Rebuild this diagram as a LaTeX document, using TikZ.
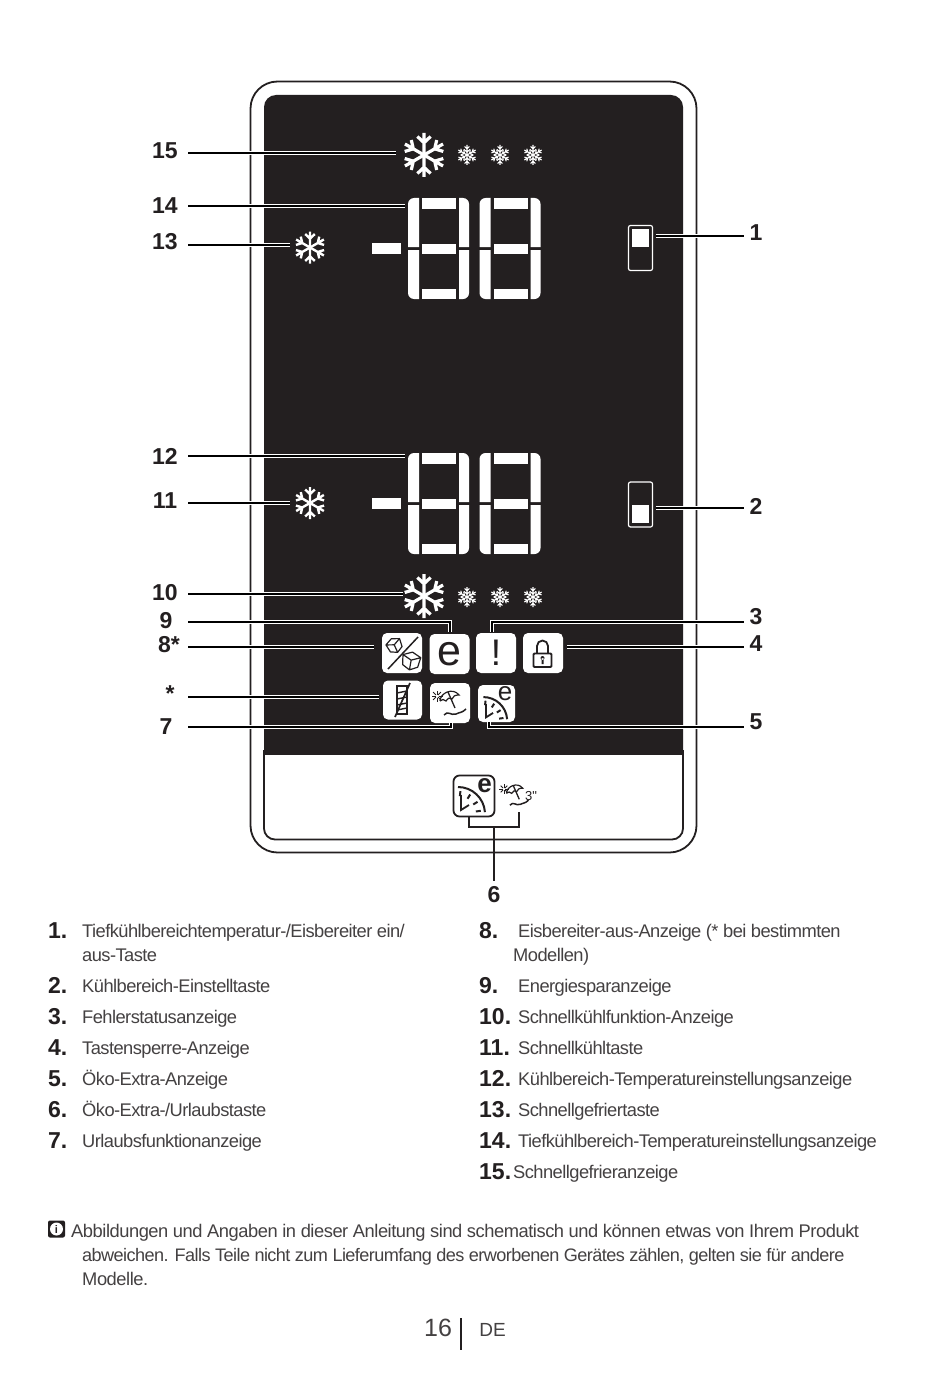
\documentclass[tikz,border=0pt]{standalone}
\usepackage{fontspec}
\setmainfont{Liberation Sans}
\newfontfamily\listfont[LetterSpace=-3]{Liberation Sans}
\newfontfamily\notefont[LetterSpace=-2.5]{Liberation Sans}
\newfontfamily\tightfont[LetterSpace=-3.1]{Liberation Sans}
\usetikzlibrary{calc}
\definecolor{PanelInk}{RGB}{35,31,32}
\tikzset{
	leader/.style={draw=white,double=black,double distance=2.4pt,line width=0.8pt},
	labelnum/.style={font=\bfseries\fontsize{23}{23}\selectfont,text=PanelInk,inner sep=0pt,minimum height=28pt},
	listnum/.style={font=\bfseries\fontsize{23}{23}\selectfont,text=PanelInk,anchor=base west,inner sep=0pt},
	listtxt/.style={font=\listfont\fontsize{18.3}{24}\selectfont,text=PanelInk!85,anchor=base west,inner sep=0pt},
	notetxt/.style={font=\notefont\fontsize{18.3}{24}\selectfont,text=PanelInk!85,anchor=base west,inner sep=0pt},
	icon/.style={fill=white,rounded corners=5pt,minimum size=40pt,inner sep=0pt,text=PanelInk},
	toggle/.style={draw=white,fill=PanelInk,line width=1.2pt,rounded corners=2pt,minimum width=24pt,minimum height=45pt,inner sep=0pt},
	pics/flake/.style={code={
		\foreach \r in {30,90,...,330}{
			\draw[rotate=\r,white,line width=#1] (0,0)--(1,0) (0.56,0)--(0.84,0.3) (0.56,0)--(0.84,-0.3);
		}
	}},
	pics/minflake/.style={code={
		\foreach \r in {30,90,...,330}{
			\draw[rotate=\r,white,line width=#1] (0,0)--(1,0) (0.3,0)--(0.55,0.3) (0.3,0)--(0.55,-0.3) (0.62,0)--(0.85,0.24) (0.62,0)--(0.85,-0.24);
		}
	}},
	pics/digit/.style={code={
		\foreach \xo/\xi/\yo/\yi in {0/11/0/49,61/51/0/49,0/11/101/52,61/51/101/52}{
			\fill[white] (\xo,\yi) [rounded corners=6pt] -- (\xo,\yo) [sharp corners] -- (\xi,\yo) -- (\xi,\yi) -- cycle;
		}
		\foreach \ya/\yb in {0/11,46/56,91/101}{
			\fill[white] (14,\ya) rectangle (48,\yb);
		}
	}},
	pics/gauge/.style={code={
		\draw[PanelInk,line width=2pt] (-16,-9) arc (-90:-4:27);
		\draw[PanelInk,line width=1.8pt] (-13,-1)--(-13,14)--(-5,9);
		\foreach \r in {-84,-58,-32,-8}{
			\draw[PanelInk,line width=2pt] ($(-16,18)+(\r:18)$)--($(-16,18)+(\r:23)$);
		}
	}},
	pics/beach/.style={code={
		\draw[PanelInk,line width=1.2pt] (-10,-2) .. controls (-10,-10) and (3,-16) .. (9,-8) .. controls (5,-8) and (3,-7) .. (2,-4) .. controls (0,-6) and (-2,-5) .. (-4,-2) .. controls (-6,-4) and (-8,-4) .. (-10,-2);
		\draw[PanelInk,line width=1.3pt] (-2,-11)--(5,5);
		\draw[PanelInk,line width=1.5pt] (-6,12) .. controls (-2,7) and (1,13) .. (6,11) .. controls (10,9) and (12,10) .. (16,6);
		\foreach \r in {0,45,...,315}{
			\draw[PanelInk,line width=0.9pt] ($(-13,-7)+(\r:1.5)$)--($(-13,-7)+(\r:5.5)$);
		}
	}},
	pics/cube/.style={code={
		\draw[PanelInk,line width=1.2pt,line join=round] (-1,-0.55)--(0,-1)--(1,-0.55)--(0.85,0.55)--(0,1)--(-0.85,0.55)--cycle
			(-1,-0.55)--(0,-0.1)--(1,-0.55) (0,-0.1)--(0,1);
	}},
}
\begin{document}
\begin{tikzpicture}[x=1pt,y=-1pt]
	\useasboundingbox (0,0) rectangle (950,1383);
	\fill[white] (0,0) rectangle (950,1383);
	\draw[PanelInk,line width=1.8pt,rounded corners=27pt] (250.5,81.5) rectangle (696.5,852.5);
	\draw[PanelInk,line width=1.8pt,rounded corners=11pt] (264,750) -- (264,839.5) -- (683,839.5) -- (683,750);
	\fill[PanelInk,rounded corners=12pt] (264,770) -- (264,95) -- (683,95) -- (683,770) -- cycle;
	\fill[white] (264.9,755) rectangle (682.1,800);
	
	\pic[scale=22] at (424,155) {flake=3.2pt};
	\pic[scale=22] at (424,596) {flake=3.2pt};
	\foreach \x in {467,500,533}{
		\pic[scale=10] at (\x,155) {minflake=1.1pt};
		\pic[scale=10] at (\x,597) {minflake=1.1pt};
	}
	\pic[scale=16] at (310,247.5) {flake=2.4pt};
	\pic[scale=16] at (310,503) {flake=2.4pt};
	
	\foreach \y in {198,453}{
		\fill[white] (372,\y+45) rectangle (401,\y+56);
		\pic at (408,\y) {digit};
		\pic at (479.5,\y) {digit};
	}
	
	\node[toggle] (upperkey) at (640.5,248) {};
	\fill[white] (632,229) rectangle (649,247);
	\node[toggle] (lowerkey) at (640.5,504.5) {};
	\fill[white] (632,505) rectangle (649,523);
	
	\node[icon] (iceoff) at (402,653) {};
	\node[icon,font=\fontsize{43}{43}\selectfont] (ecomode) at (449.5,654) {e};
	\node[icon,font=\fontsize{37}{37}\selectfont] (alarm) at (496,653) {!};
	\node[icon] (keylock) at (543,653) {};
	\node[icon,minimum size=39pt] (shelfoff) at (402.5,700) {};
	\node[icon] (holiday) at (450,703) {};
	\node[icon,minimum size=37pt] (ecoextra) at (496.5,703.5) {};
	
	\pic[scale=7.5,rotate=25] at (394.5,645.5) {cube};
	\pic[scale=9,rotate=-10] at (411,661) {cube};
	\draw[PanelInk,line width=1.5pt] (388,669)--(418,637);
	
	\draw[PanelInk,line width=1.8pt,rounded corners=1pt] (533.5,653.5) rectangle (551.5,667);
	\draw[PanelInk,line width=1.8pt] (537,653) -- (537,646) arc (180:360:5.5) -- (548,653);
	\fill[PanelInk] (542.5,658) circle (2) (541.5,658) rectangle (543.5,664);
	
	\draw[PanelInk,line width=1.6pt] (397,686) rectangle (407,714);
	\foreach \y in {692,698,704,709}{
		\draw[PanelInk,line width=1.4pt] (397,\y+1)--(407,\y-1);
	}
	\draw[PanelInk,line width=1.7pt] (395,717)--(410,683);
	
	\pic at (450,703) {beach};
	\pic[scale=0.88] at (497.5,705) {gauge};
	\node[text=PanelInk,inner sep=0pt,font=\fontsize{26}{26}\selectfont] (ecotag) at (505,694) {e};
	
	\draw[PanelInk,line width=1.8pt,rounded corners=6pt] (453.5,775.5) rectangle (494.5,816.5);
	\pic at (474,796) {gauge};
	\node[text=PanelInk,inner sep=0pt,font=\bfseries\fontsize{26}{26}\selectfont] (ecobig) at (484.5,786) {e};
	\pic[scale=0.85] at (515,795) {beach};
	\node[text=PanelInk,inner sep=0pt,font=\fontsize{13}{13}\selectfont] (threesec) at (531,796) {3\textquotedbl};
	
	\foreach \p/\t/\x/\y/\w in {15/15/165/151/46,14/14/165/206/46,13/13/165/242/46,12/12/165/456/46,11/11/165/501/46,10/10/165/593/46,9/9/166/621/44,8/8*/169/645/38,star/*/170/694/36,7/7/166/727/44}
		\node[labelnum,minimum width=\w pt] (n\p) at (\x,\y) {\t};
	\foreach \p/\x/\y in {1/756/233,2/756/506,3/756/617,4/756/644,5/756/722}
		\node[labelnum,minimum width=24pt] (n\p) at (\x,\y) {\p};
	\node[labelnum] (n6) at (494,895) {6};
	
	\foreach \p/\anc/\x/\y in {15/east/396/153,14/east/405/206,13/east/290/245,12/east/405/456,11/east/290/503,10/east/403/594,8/east/374/647,star/east/379/697,1/west/656/236,2/west/656/508,4/west/567/647}{
		\coordinate (e\p) at (\x,\y);
		\draw[leader] (n\p.\anc |- e\p) -- (e\p);
	}
	\foreach \p/\anc/\x/\y/\yy in {9/east/450/622/632,7/east/451/727/723,3/west/492/622/632,5/west/489/727/722}{
		\coordinate (c\p) at (\x,\y);
		\coordinate (e\p) at (\x,\yy);
		\draw[leader] (n\p.\anc |- c\p) -- (c\p) -- (e\p);
	}
	\coordinate (brleft) at (469,817);
	\coordinate (brright) at (519,812);
	\coordinate (brjoin) at (494,827);
	\draw[PanelInk,line width=1.8pt] (brleft) |- (brjoin) -| (brright);
	\draw[PanelInk,line width=2.8pt] (n6.north) -- (brjoin);
	
	\foreach \p/\x/\y in {1/48/938,2/48/993,3/48/1024,4/48/1055,5/48/1086,6/48/1117,7/48/1148,8/479/938,9/479/993,10/479/1024,11/479/1055,12/479/1086,13/479/1117,14/479/1148,15/479/1179}
		\node[listnum] (k\p) at (\x,\y) {\p.};
	\foreach \p/\x/\y/\txt in {
		1/82/937.3/{Tiefkühlbereichtemperatur-/Eisbereiter ein/},
		1b/82/961.3/{aus-Taste},
		2/82/992.3/{Kühlbereich-Einstelltaste},
		3/82/1023.3/{Fehlerstatusanzeige},
		4/82/1054.3/{Tastensperre-Anzeige},
		5/82/1085.3/{Öko-Extra-Anzeige},
		6/82/1116.3/{Öko-Extra-/Urlaubstaste},
		7/82/1147.3/{Urlaubsfunktionanzeige},
		8/518/937.3/{Eisbereiter-aus-Anzeige (* bei bestimmten},
		8b/513/961.3/{Modellen)},
		9/518/992.3/{Energiesparanzeige},
		10/518/1023.3/{Schnellkühlfunktion-Anzeige},
		11/518/1054.3/{Schnellkühltaste},
		12/518/1085.3/{Kühlbereich-Temperatureinstellungsanzeige},
		13/518/1116.3/{Schnellgefriertaste},
		14/518/1147.3/{Tiefkühlbereich-Temperatureinstellungsanzeige},
		15/513/1178.3/{Schnellgefrieranzeige}}
		\node[listtxt] (t\p) at (\x,\y) {\txt};
	
	\node[fill=PanelInk,rounded corners=2pt,minimum size=17pt,inner sep=0pt] (infobox) at (56.5,1229) {};
	\node[circle,fill=white,minimum size=13pt,inner sep=0pt,text=PanelInk,font=\bfseries\fontsize{11}{11}\selectfont] (infoi) at (56.5,1229) {i};
	\node[notetxt] (note1) at (71,1237.3) {Abbildungen und Angaben in dieser Anleitung sind schematisch und können etwas von Ihrem Produkt};
	\node[notetxt,font=\tightfont\fontsize{18.1}{24}\selectfont] (note2) at (82,1261.3) {abweichen. Falls Teile nicht zum Lieferumfang des erworbenen Gerätes zählen, gelten sie für andere};
	\node[notetxt] (note3) at (82,1285.3) {Modelle.};
	
	\node[text=PanelInk!85,inner sep=0pt,font=\fontsize{25}{25}\selectfont,anchor=base] (pageno) at (438,1336) {16};
	\fill[PanelInk] (460,1318) rectangle (462,1350);
	\node[text=PanelInk!85,inner sep=0pt,font=\fontsize{19}{19}\selectfont,anchor=base] (pagelang) at (492.5,1336) {DE};
\end{tikzpicture}
\end{document}
